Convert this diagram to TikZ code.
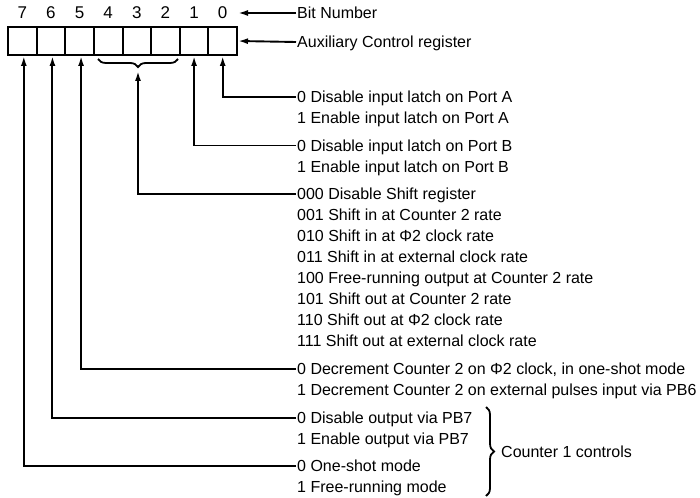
\documentclass[tikz,border=0pt]{standalone}
\usepackage{fontspec}
\setmainfont{Liberation Sans}
\usetikzlibrary{arrows.meta,decorations.pathreplacing}
\begin{document}
\begin{tikzpicture}[x=1pt,y=-1pt,
  every node/.style={font=\fontsize{16}{18}\selectfont},
  cell/.style={draw,line width=2pt,minimum width=28.625pt,minimum height=28pt,inner sep=0pt},
  bitnum/.style={inner sep=0pt,font=\fontsize{17}{18}\selectfont},
  row/.style={anchor=west,inner xsep=1pt,inner ysep=0pt,text height=11.4pt,text depth=0pt},
  arr/.style={line width=1.9pt,-{Latex[length=10pt,width=6pt]}},
  brc/.style={line width=1.8pt,decorate,decoration={brace,amplitude=8pt}}]
\useasboundingbox (0,0) rectangle (700,497);
% register cells
\foreach \b [count=\i from 0] in {7,6,5,4,3,2,1,0}{
  \node[cell] (c\b) at ({8+28.625*(\i+0.5)},41) {};
  \node[bitnum] (n\b) at ({8+28.625*(\i+0.5)},13) {\b};
}
% header labels
\node[row] (bn) at (296,13) {Bit Number};
\node[row] (aux) at (296,42) {Auxiliary Control register};
\coordinate (bntip) at (238,13);
\draw[arr] (bn.west) -- (bntip);
\draw[arr] (aux.west) -- (c0.east);
% brace under bits 4-2
\draw[brc,decoration={mirror}] (98,59) -- (178,59);
\coordinate (btip) at (138,71);
% rows
\node[row] (tA0) at (296,97) {0 Disable input latch on Port A};
\node[row] (tA1) at (296,118) {1 Enable input latch on Port A};
\node[row] (tB0) at (296,145.5) {0 Disable input latch on Port B};
\node[row] (tB1) at (296,166.5) {1 Enable input latch on Port B};
\node[row] (s0) at (296,194) {000 Disable Shift register};
\node[row] (s1) at (296,215) {001 Shift in at Counter 2 rate};
\node[row] (s2) at (296,236) {010 Shift in at Φ2 clock rate};
\node[row] (s3) at (296,257) {011 Shift in at external clock rate};
\node[row] (s4) at (296,278) {100 Free-running output at Counter 2 rate};
\node[row] (s5) at (296,299) {101 Shift out at Counter 2 rate};
\node[row] (s6) at (296,320) {110 Shift out at Φ2 clock rate};
\node[row] (s7) at (296,341) {111 Shift out at external clock rate};
\node[row] (d0) at (296,369) {0 Decrement Counter 2 on Φ2 clock, in one-shot mode};
\node[row] (d1) at (296,390) {1 Decrement Counter 2 on external pulses input via PB6};
\node[row] (o0) at (296,418) {0 Disable output via PB7};
\node[row] (o1) at (296,439) {1 Enable output via PB7};
\node[row] (m0) at (296,466) {0 One-shot mode};
\node[row] (m1) at (296,487) {1 Free-running mode};
% connectors
\draw[arr] (tA0.west) -| (c0.south);
\draw[arr] (tB0.west) -| (c1.south);
\draw[arr] (s0.west) -| (btip);
\draw[arr] (d0.west) -| ([xshift=1.5pt]c5.south);
\draw[arr] (o0.west) -| ([xshift=1.5pt]c6.south);
\draw[arr] (m0.west) -| ([xshift=1.5pt]c7.south);
% counter 1 brace
\draw[brc] (486,407) -- (486,496);
\node[row] (cc) at (500,452) {Counter 1 controls};
\end{tikzpicture}
\end{document}
